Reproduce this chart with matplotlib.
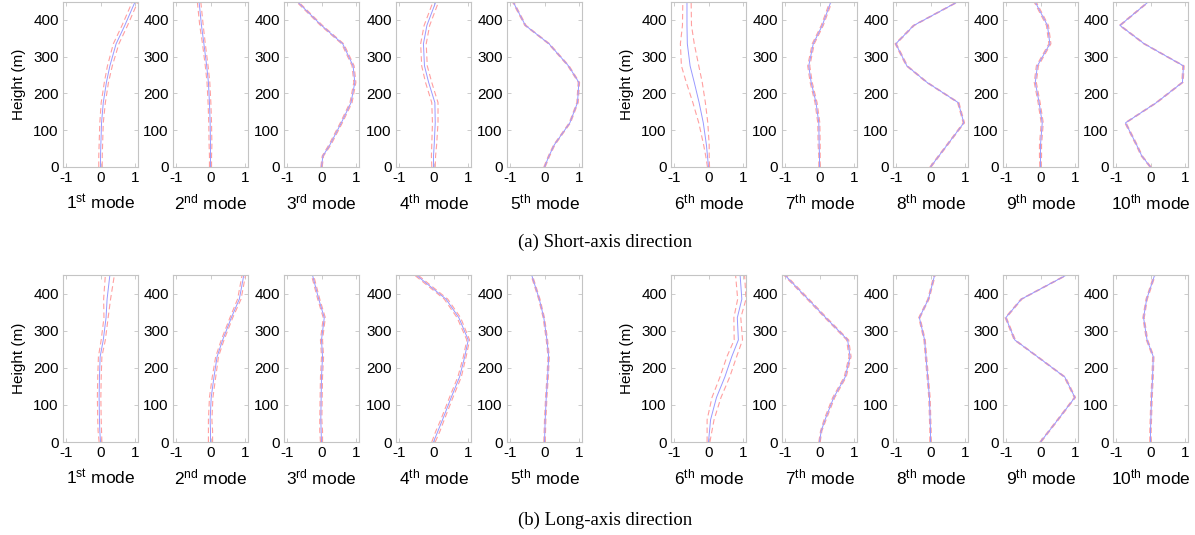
import matplotlib
matplotlib.use("Agg")
import matplotlib.pyplot as plt
import numpy as np

plt.rcParams['font.family'] = ['Liberation Sans', 'DejaVu Sans']
plt.rcParams['mathtext.fontset'] = 'custom'
plt.rcParams['mathtext.rm'] = 'Liberation Sans'

# node heights of the measured mode shapes (m)
heights = [0, 30, 60, 120, 175, 230, 275, 335, 385, 450]

mode_names = ["1$\\mathregular{^{st}}$ mode", "2$\\mathregular{^{nd}}$ mode",
              "3$\\mathregular{^{rd}}$ mode", "4$\\mathregular{^{th}}$ mode",
              "5$\\mathregular{^{th}}$ mode", "6$\\mathregular{^{th}}$ mode",
              "7$\\mathregular{^{th}}$ mode", "8$\\mathregular{^{th}}$ mode",
              "9$\\mathregular{^{th}}$ mode", "10$\\mathregular{^{th}}$ mode"]

# (a) short-axis direction: mean shape and half width of the dashed band
short_mean = [
    [0, 0, 0.01, 0.03, 0.08, 0.17, 0.27, 0.45, 0.7, 1.0],
    [0, 0, 0, -0.01, -0.03, -0.06, -0.11, -0.19, -0.26, -0.33],
    [0, 0.04, 0.24, 0.57, 0.85, 0.96, 0.91, 0.61, 0.0, -0.7],
    [0, 0, 0.02, 0.05, 0.04, -0.14, -0.26, -0.29, -0.19, 0.07],
    [0, 0.13, 0.28, 0.73, 0.95, 0.99, 0.69, 0.13, -0.55, -0.91],
    [0, -0.03, -0.06, -0.15, -0.27, -0.41, -0.53, -0.61, -0.62, -0.62],
    [0, 0, -0.01, -0.02, -0.1, -0.24, -0.31, -0.18, 0.08, 0.33],
    [0, 0.24, 0.48, 0.96, 0.8, -0.1, -0.68, -1.0, -0.48, 0.8],
    [0, 0, 0, 0.05, -0.04, -0.15, -0.09, 0.27, 0.2, -0.16],
    [0, -0.25, -0.4, -0.72, 0.17, 0.92, 0.95, -0.18, -0.88, -0.05],
]
short_band = [
    [0.05, 0.05, 0.05, 0.05, 0.06, 0.06, 0.07, 0.08, 0.08, 0.08],
    [0.03, 0.03, 0.04, 0.04, 0.04, 0.04, 0.04, 0.04, 0.05, 0.05],
    [0.02, 0.02, 0.03, 0.03, 0.03, 0.03, 0.03, 0.03, 0.03, 0.03],
    [0.05, 0.06, 0.07, 0.08, 0.09, 0.09, 0.08, 0.08, 0.08, 0.08],
    [0.02, 0.02, 0.02, 0.02, 0.02, 0.02, 0.02, 0.02, 0.02, 0.02],
    [0.03, 0.05, 0.08, 0.13, 0.18, 0.23, 0.25, 0.2, 0.13, 0.12],
    [0.02, 0.02, 0.03, 0.03, 0.03, 0.03, 0.03, 0.03, 0.03, 0.03],
    [0.02, 0.02, 0.02, 0.02, 0.02, 0.02, 0.02, 0.02, 0.02, 0.02],
    [0.02, 0.03, 0.03, 0.03, 0.03, 0.03, 0.03, 0.03, 0.03, 0.03],
    [0.02, 0.02, 0.02, 0.02, 0.02, 0.02, 0.02, 0.02, 0.02, 0.02],
]

# (b) long-axis direction
long_mean = [
    [0, -0.02, -0.03, -0.04, -0.03, -0.01, 0.08, 0.16, 0.19, 0.27],
    [0, 0, -0.01, 0.02, 0.1, 0.19, 0.35, 0.6, 0.83, 0.96],
    [0, -0.01, -0.02, -0.01, 0.0, 0.03, 0.0, 0.08, -0.08, -0.26],
    [0, 0.13, 0.26, 0.51, 0.75, 0.9, 1.0, 0.73, 0.36, -0.5],
    [0, 0.01, 0.02, 0.05, 0.09, 0.12, 0.07, -0.02, -0.15, -0.37],
    [0, 0.03, 0.06, 0.23, 0.47, 0.67, 0.86, 0.83, 0.96, 0.91],
    [0, 0.05, 0.16, 0.41, 0.74, 0.88, 0.81, 0.18, -0.33, -1.0],
    [0, 0, -0.01, -0.03, -0.08, -0.13, -0.17, -0.32, -0.06, 0.12],
    [0, 0.25, 0.5, 0.99, 0.7, -0.09, -0.74, -1.0, -0.55, 0.75],
    [0, 0, 0.01, 0.03, 0.06, 0.08, -0.1, -0.2, -0.11, 0.12],
]
long_band = [
    [0.04, 0.05, 0.05, 0.05, 0.05, 0.05, 0.06, 0.06, 0.1, 0.13],
    [0.06, 0.06, 0.05, 0.05, 0.05, 0.04, 0.04, 0.04, 0.05, 0.05],
    [0.03, 0.04, 0.03, 0.03, 0.03, 0.03, 0.03, 0.03, 0.03, 0.03],
    [0.05, 0.06, 0.05, 0.05, 0.05, 0.04, 0.04, 0.05, 0.05, 0.05],
    [0.02, 0.02, 0.02, 0.02, 0.02, 0.02, 0.02, 0.02, 0.02, 0.02],
    [0.04, 0.07, 0.1, 0.13, 0.14, 0.14, 0.12, 0.1, 0.12, 0.13],
    [0.02, 0.02, 0.03, 0.03, 0.03, 0.03, 0.03, 0.03, 0.03, 0.03],
    [0.02, 0.02, 0.02, 0.02, 0.02, 0.02, 0.02, 0.02, 0.02, 0.02],
    [0.02, 0.02, 0.02, 0.02, 0.02, 0.02, 0.02, 0.02, 0.02, 0.02],
    [0.02, 0.02, 0.02, 0.02, 0.02, 0.02, 0.02, 0.02, 0.02, 0.02],
]

W, H = 1195, 535
fig = plt.figure(figsize=(W / 100, H / 100), dpi=100)

lefts = [63, 173, 284, 396, 507, 671, 782, 893, 1003, 1113]
ax_w = 75
rows = [(1.5, 167, short_mean, short_band), (275, 442, long_mean, long_band)]

spine_col = '#c4c4c4'
for top, bottom, means, bands in rows:
    for i in range(10):
        ax = fig.add_axes([lefts[i] / W, 1 - bottom / H, ax_w / W, (bottom - top) / H])
        m = np.array(means[i])
        b = np.array(bands[i])
        ax.plot(m - b, heights, color='#ffa0a0', lw=0.8, dashes=(5, 3))
        ax.plot(m + b, heights, color='#ffa0a0', lw=0.8, dashes=(5, 3))
        ax.plot(m, heights, color='#9999ff', lw=0.7)
        ax.set_xlim(-1.08, 1.08)
        ax.set_ylim(0, 450)
        ax.set_xticks([-1, 0, 1])
        ax.set_xticklabels(['-1', '0', '1'])
        ax.set_yticks([0, 100, 200, 300, 400])
        ax.tick_params(direction='in', length=3, width=0.6, color=spine_col,
                       top=True, right=True, labelsize=11, pad=3)
        for sp in ax.spines.values():
            sp.set_color(spine_col)
            sp.set_linewidth(0.8)
        ax.set_xlabel(mode_names[i], fontsize=12.5, labelpad=5)
        if i in (0, 5):
            ax.set_ylabel('Height (m)', fontsize=11, labelpad=5)

fig.text(605 / W, 1 - 242 / H, '(a) Short-axis direction', ha='center', va='center',
         fontsize=13.5, family='Liberation Serif')
fig.text(605 / W, 1 - 520 / H, '(b) Long-axis direction', ha='center', va='center',
         fontsize=13.5, family='Liberation Serif')

fig.savefig('out.png', dpi=100)
